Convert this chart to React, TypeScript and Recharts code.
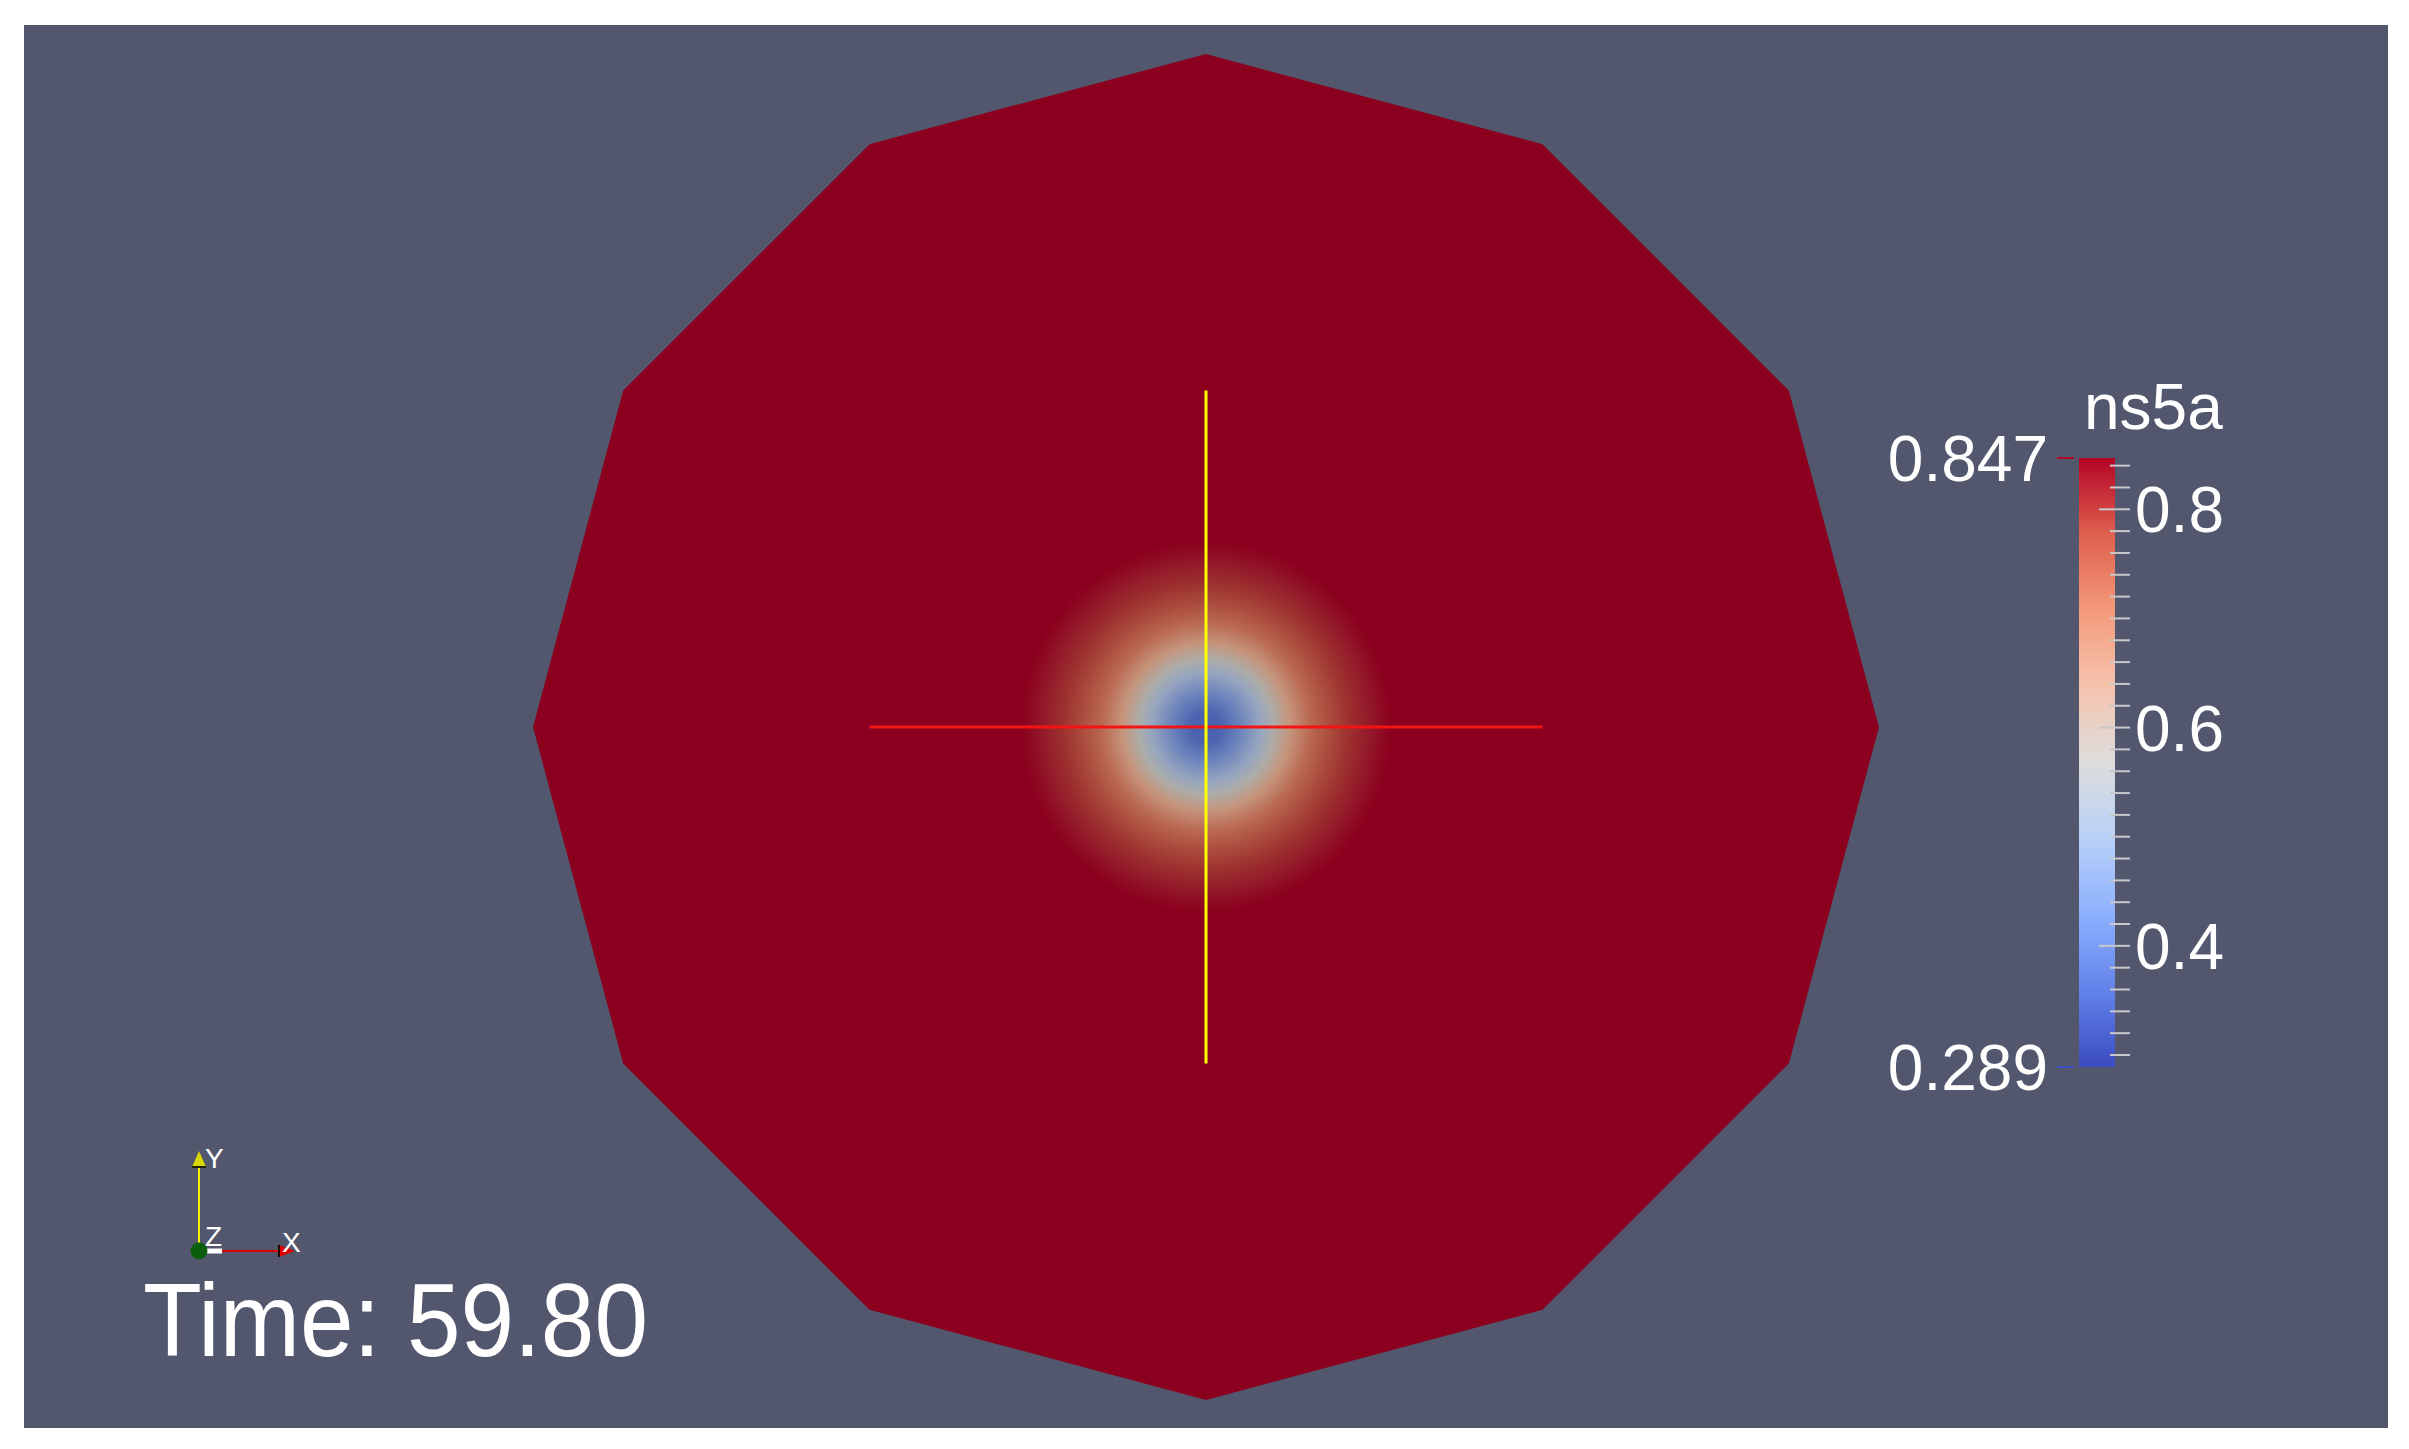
import React from "react";
import {
  RadarChart,
  Radar,
  PolarAngleAxis,
  PolarRadiusAxis,
  LineChart,
  Line,
  XAxis,
  YAxis,
  BarChart,
  Bar,
} from "recharts";

// 12-sided mesh outline, unit radius
const meshVertices = ["v0", "v1", "v2", "v3", "v4", "v5", "v6", "v7", "v8", "v9", "v10", "v11"];
const meshRadius = [1, 1, 1, 1, 1, 1, 1, 1, 1, 1, 1, 1];
// extent of the low-ns5a spot in the middle
const spotRadius = [0.29, 0.29, 0.29, 0.29, 0.29, 0.29, 0.29, 0.29, 0.29, 0.29, 0.29, 0.29];

// probe lines through the centre
const probeHorizontal = [
  { x: -0.5, y: 0 },
  { x: 0.5, y: 0 },
];
const probeVertical = [
  { x: 0, y: -0.5 },
  { x: 0, y: 0.5 },
];

// colour legend
const fieldName = "ns5a";
const rangeMin = 0.289;
const rangeMax = 0.847;
const majorTicks = [0.4, 0.6, 0.8];
const minorTicks = [
  0.3, 0.32, 0.34, 0.36, 0.38, 0.4, 0.42, 0.44, 0.46, 0.48, 0.5, 0.52, 0.54, 0.56,
  0.58, 0.6, 0.62, 0.64, 0.66, 0.68, 0.7, 0.72, 0.74, 0.76, 0.78, 0.8, 0.82, 0.84,
];
const timeValue = 59.8;

const BG = "rgb(82,87,110)";
const FIELD_RED = "#8B001E";
const FONT = "'Liberation Sans', Arial, sans-serif";

// cool to warm
const coolWarm = [
  [0, "#3B4CC0"],
  [0.125, "#6282EA"],
  [0.25, "#8DB0FE"],
  [0.375, "#B8D0F9"],
  [0.5, "#DDDDDD"],
  [0.625, "#F5C4AD"],
  [0.75, "#F49A7B"],
  [0.875, "#DE604D"],
  [1, "#B40426"],
];

// shaded colours of the spot, centre -> edge
const spotStops = [
  [0, "#4A5EAC"],
  [0.08, "#4E64B0"],
  [0.17, "#6A82BC"],
  [0.28, "#97A5BF"],
  [0.345, "#ACACA8"],
  [0.43, "#C6947C"],
  [0.53, "#BA6A52"],
  [0.64, "#AA4A3C"],
  [0.74, "#9C2F2E"],
  [0.84, "#93192A"],
  [0.92, "#8D0621"],
  [0.955, FIELD_RED],
  [1, FIELD_RED],
];

const meshData = meshVertices.map((v, i) => ({
  vertex: v,
  mesh: meshRadius[i],
  spot: spotRadius[i],
}));

const legendData = [{ name: fieldName, span: [rangeMin, rangeMax] }];
const legendTicks = [rangeMin, ...minorTicks, rangeMax];

const labelStyle = { fill: "#FFFFFF", fontFamily: FONT };

function LegendTick(props: any) {
  const { y, payload } = props;
  const v = payload.value;
  if (v === rangeMin || v === rangeMax) {
    return (
      <g>
        <line
          x1={197}
          x2={214}
          y1={y}
          y2={y}
          stroke={v === rangeMax ? "#B40426" : "#3B4CC0"}
          strokeWidth={2}
        />
        <text x={188} y={y + 23} textAnchor="end" fontSize={64} {...labelStyle}>
          {v.toFixed(3)}
        </text>
      </g>
    );
  }
  const major = majorTicks.includes(v);
  return (
    <g>
      <line x1={major ? 239 : 250} x2={270} y1={y} y2={y} stroke="#C8C8C8" strokeWidth={2} />
      {major && (
        <text x={275} y={y + 23} textAnchor="start" fontSize={64} {...labelStyle}>
          {v.toFixed(1)}
        </text>
      )}
    </g>
  );
}

export default function App() {
  return (
    <div
      style={{
        position: "absolute",
        left: 0,
        top: 0,
        width: 2409,
        height: 1449,
        background: "#FFFFFF",
        overflow: "hidden",
      }}
    >
      <svg width={0} height={0} style={{ position: "absolute" }}>
        <defs>
          <radialGradient id="spotFill" cx="50%" cy="50%" r="50%">
            {spotStops.map(([o, c]) => (
              <stop key={o as number} offset={o as number} stopColor={c as string} />
            ))}
          </radialGradient>
          <linearGradient id="coolWarm" x1="0" y1="1" x2="0" y2="0">
            {coolWarm.map(([o, c]) => (
              <stop key={o as number} offset={o as number} stopColor={c as string} />
            ))}
          </linearGradient>
        </defs>
      </svg>

      <div style={{ position: "absolute", left: 24, top: 25, width: 2364, height: 1403, background: BG }} />

      {/* mesh + spot */}
      <div style={{ position: "absolute", left: 533, top: 54 }}>
        <RadarChart
          width={1346}
          height={1346}
          data={meshData}
          outerRadius={673}
          margin={{ top: 0, right: 0, bottom: 0, left: 0 }}
        >
          <PolarAngleAxis dataKey="vertex" tick={false} axisLine={false} />
          <PolarRadiusAxis domain={[0, 1]} tick={false} axisLine={false} />
          <Radar dataKey="mesh" fill={FIELD_RED} fillOpacity={1} stroke="none" isAnimationActive={false} />
          <Radar dataKey="spot" fill="url(#spotFill)" fillOpacity={1} stroke="none" isAnimationActive={false} />
        </RadarChart>
      </div>

      {/* probe lines */}
      <div style={{ position: "absolute", left: 533, top: 54 }}>
        <LineChart width={1346} height={1346} margin={{ top: 0, right: 0, bottom: 0, left: 0 }}>
          <XAxis type="number" dataKey="x" domain={[-1, 1]} hide allowDataOverflow />
          <YAxis type="number" dataKey="y" domain={[-1, 1]} hide allowDataOverflow />
          <Line
            data={probeHorizontal}
            dataKey="y"
            stroke="#F41414"
            strokeWidth={3}
            dot={false}
            isAnimationActive={false}
          />
          <Line
            data={probeVertical}
            dataKey="y"
            stroke="#FFFF00"
            strokeWidth={3}
            dot={false}
            isAnimationActive={false}
          />
        </LineChart>
      </div>

      {/* colour legend */}
      <div style={{ position: "absolute", left: 1860, top: 380 }}>
        <BarChart
          width={400}
          height={780}
          data={legendData}
          margin={{ top: 78, right: 45, bottom: 93, left: 219 }}
          barCategoryGap={0}
        >
          <XAxis dataKey="name" hide />
          <YAxis
            type="number"
            orientation="right"
            width={100}
            domain={[rangeMin, rangeMax]}
            ticks={legendTicks}
            interval={0}
            allowDataOverflow
            axisLine={false}
            tickLine={false}
            tick={<LegendTick />}
          />
          <Bar dataKey="span" fill="url(#coolWarm)" isAnimationActive={false} />
        </BarChart>
      </div>

      {/* annotations */}
      <svg
        width={2409}
        height={1449}
        style={{ position: "absolute", left: 0, top: 0, pointerEvents: "none" }}
      >
        <text x={2084} y={429} fontSize={64} {...labelStyle}>
          {fieldName}
        </text>

        {/* orientation axes */}
        <line x1={199} y1={1251} x2={199} y2={1167} stroke="#F5F500" strokeWidth={2} />
        <polygon points="192,1167 206,1167 199,1151" fill="#D8D800" />
        <line x1={192} y1={1167} x2={206} y2={1167} stroke="#222200" strokeWidth={2} />
        <rect x={199} y={1248.5} width={23} height={5} fill="#FFFFFF" />
        <line x1={222} y1={1251} x2={279} y2={1251} stroke="#E00000" strokeWidth={2} />
        <polygon points="279,1245 279,1257 295,1251" fill="#E00000" />
        <line x1={279} y1={1245} x2={279} y2={1257} stroke="#220000" strokeWidth={2} />
        <circle cx={199} cy={1251} r={8.5} fill="#0B5E0B" />
        <text x={205} y={1168} fontSize={28} {...labelStyle}>
          Y
        </text>
        <text x={205} y={1246} fontSize={28} {...labelStyle}>
          Z
        </text>
        <text x={282} y={1252} fontSize={28} {...labelStyle}>
          X
        </text>

        <text
          x={143}
          y={1356}
          fontSize={104}
          textLength={505}
          lengthAdjust="spacingAndGlyphs"
          {...labelStyle}
        >
          {`Time: ${timeValue.toFixed(2)}`}
        </text>
      </svg>
    </div>
  );
}
